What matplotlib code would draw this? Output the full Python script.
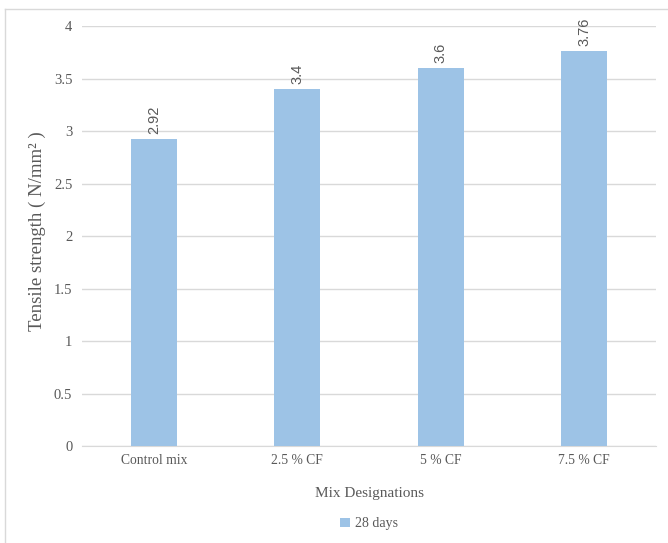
import matplotlib
matplotlib.use("Agg")
import matplotlib.pyplot as plt
from matplotlib.lines import Line2D

categories = ["Control mix", "2.5 % CF", "5 % CF", "7.5 % CF"]
strength_28 = [2.92, 3.4, 3.6, 3.76]
value_labels = ["2.92", "3.4", "3.6", "3.76"]
y_ticks = [0, 0.5, 1, 1.5, 2, 2.5, 3, 3.5, 4]
y_tick_labels = ["0", "0.5", "1", "1.5", "2", "2.5", "3", "3.5", "4"]

bar_color = "#9dc3e6"
text_color = "#595959"
grid_color = "#d9d9d9"

plt.rcParams['font.family'] = ['Liberation Serif', 'DejaVu Serif']

fig = plt.figure(figsize=(6.68, 5.43), dpi=100)
ax = fig.add_axes([0.1228, 0.1786, 0.8592, 0.7734])

x = range(len(categories))
bars = ax.bar(x, strength_28, width=0.32, color=bar_color, zorder=3, label="28 days")

for b, lab in zip(bars, value_labels):
    ax.text(b.get_x() + b.get_width() / 2, b.get_height() + 0.05, lab,
            rotation=90, ha="center", va="bottom", fontsize=10.5,
            color=text_color, family="Liberation Sans")

ax.set_ylim(0, 4)
ax.set_xlim(-0.5, 3.5)
ax.set_yticks(y_ticks)
ax.set_yticklabels(y_tick_labels)
ax.set_xticks(list(x))
ax.set_xticklabels(categories)
ax.tick_params(axis="both", length=0, colors=text_color)
ax.tick_params(axis="y", pad=7, labelsize=10.5)
ax.tick_params(axis="x", pad=6, labelsize=9.8)
ax.grid(axis="y", color=grid_color, linewidth=1, zorder=0)
for s in ["top", "right", "left"]:
    ax.spines[s].set_visible(False)
ax.spines["bottom"].set_color(grid_color)

ax.set_ylabel("Tensile strength ( N/mm² )", fontsize=13.5, color=text_color)
ax.yaxis.set_label_coords(-0.062, 0.512)
ax.set_xlabel("Mix Designations", fontsize=11, color=text_color, labelpad=14)

ax.legend(loc="upper center", bbox_to_anchor=(0.5, -0.14), frameon=False,
          fontsize=10, labelcolor=text_color, handlelength=0.7, handleheight=0.7,
          handletextpad=0.4)

# light frame around the chart area
fig.add_artist(Line2D([5 / 668, 5 / 668], [0, 1 - 9 / 543], color=grid_color, lw=1))
fig.add_artist(Line2D([5 / 668, 1], [1 - 9 / 543, 1 - 9 / 543], color=grid_color, lw=1))

fig.savefig("out.png", dpi=100)
